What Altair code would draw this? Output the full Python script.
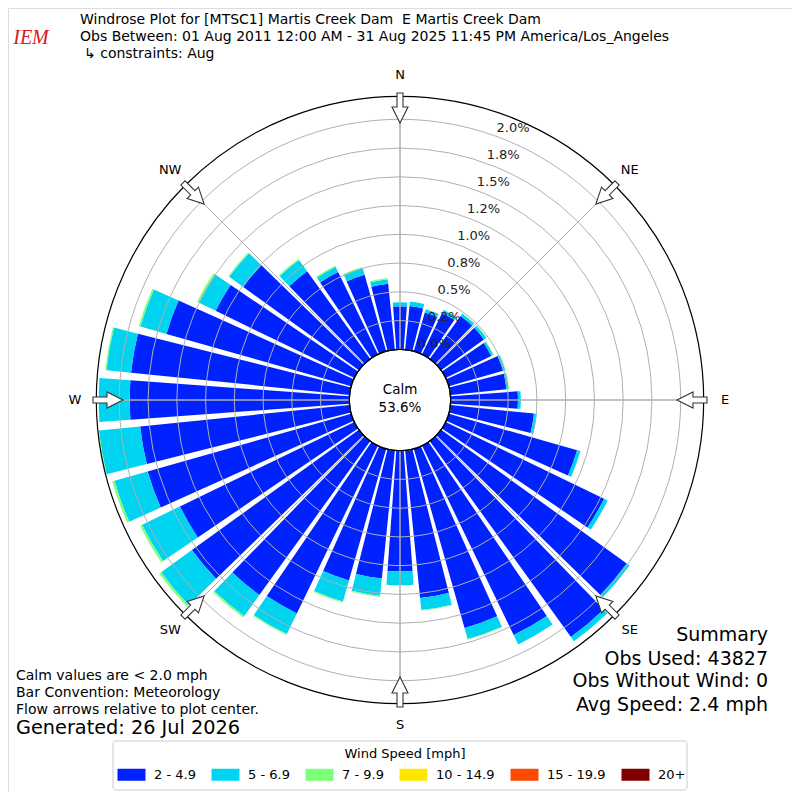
import math
import altair as alt
import pandas as pd

# ---------------- data ----------------
DIRS = [0, 10, 20, 30, 40, 50, 60, 70, 80, 90, 100, 110, 120, 130, 140, 150, 160, 170,
        180, 190, 200, 210, 220, 230, 240, 250, 260, 270, 280, 290, 300, 310, 320, 330, 340, 350]
BINS = ["2 - 4.9", "5 - 6.9", "7 - 9.9", "10 - 14.9", "15 - 19.9", "20+"]
COLORS = ["#0022FF", "#00D4F0", "#7DFF7A", "#FFE600", "#FF4A00", "#800000"]

S_2_5 = [0.375, 0.38, 0.35, 0.40, 0.46, 0.46, 0.44, 0.49, 0.49, 0.585, 0.73, 1.16,
         1.53, 1.99, 2.10, 1.83, 1.62, 1.29, 1.05, 1.12, 1.19, 1.62, 1.65, 1.79,
         1.685, 1.84, 1.83, 1.91, 1.91, 1.67, 1.34, 1.24, 0.94, 0.795, 0.69, 0.575]
S_5_7 = [0.035, 0.04, 0.03, 0.03, 0.025, 0.025, 0.02, 0.02, 0.02, 0.025, 0.025, 0.03,
         0.035, 0.03, 0.045, 0.09, 0.10, 0.105, 0.12, 0.15, 0.19, 0.20, 0.225, 0.33,
         0.365, 0.30, 0.36, 0.27, 0.215, 0.235, 0.165, 0.15, 0.12, 0.05, 0.06, 0.04]
S_7_10 = [0.0, 0.0, 0.0, 0.0, 0.005, 0.005, 0.005, 0.005, 0.005, 0.0, 0.0, 0.0,
          0.0, 0.0, 0.0, 0.0, 0.005, 0.005, 0.0, 0.01, 0.01, 0.01, 0.015, 0.02,
          0.02, 0.02, 0.01, 0.0, 0.01, 0.015, 0.015, 0.01, 0.01, 0.01, 0.01, 0.01]
S_10_15 = [0.0, 0.0, 0.0, 0.0, 0.0, 0.0, 0.0, 0.0, 0.0, 0.0, 0.0, 0.0,
           0.0, 0.0, 0.0, 0.0, 0.0, 0.0, 0.0, 0.0, 0.0, 0.0, 0.0, 0.0,
           0.0, 0.0, 0.0, 0.0, 0.0, 0.0, 0.0, 0.0, 0.0, 0.0, 0.0, 0.0]
S_15_20 = list(S_10_15)
S_20P = list(S_10_15)
SERIES = [S_2_5, S_5_7, S_7_10, S_10_15, S_15_20, S_20P]

RING_VALS = [0.25, 0.5, 0.75, 1.0, 1.25, 1.5, 1.75, 2.0]
RING_LABEL_VALS = [0.0, 0.25, 0.5, 0.75, 1.0, 1.25, 1.5, 1.75, 2.0]
RING_LABELS = ["0.0%", "0.2%", "0.5%", "0.8%", "1.0%", "1.2%", "1.5%", "1.8%", "2.0%"]
R_MAX = 2.2
COMPASS_DIRS = [0, 45, 90, 135, 180, 225, 270, 315]
COMPASS = ["N", "NE", "E", "SE", "S", "SW", "W", "NW"]
CALM_PCT = "53.6%"

# ---------------- layout / style ----------------
W = H = 784
CX, CY = W / 2, H / 2
R_IN, R_OUT = 50.7, 303.7
HALF = 4.2
FONT = "DejaVu Sans"
GRID = "#b0b0b0"

rows = []
for i, d in enumerate(DIRS):
    cum = 0.0
    for b, s in zip(BINS, SERIES):
        v = s[i]
        if v <= 0:
            continue
        rows.append(dict(dir=d, bin=b, t0=d - HALF, t1=d + HALF, r0=cum, r1=cum + v))
        cum += v
bars_df = pd.DataFrame(rows)

TH = alt.Scale(domain=[0, 360], range=[0, 2 * math.pi])
RS = alt.Scale(type="linear", domain=[0, R_MAX], range=[R_IN, R_OUT])
FULL = 2 * math.pi

# legend frame (drawn beneath the legend)
frame = alt.Chart(pd.DataFrame({"k": [0]})).mark_rect(
    fill="white", stroke="#cccccc", strokeWidth=1, cornerRadius=3
).encode(x=alt.value(105), x2=alt.value(679), y=alt.value(733), y2=alt.value(782))

bars = alt.Chart(bars_df).mark_arc().encode(
    theta=alt.Theta("t0:Q", scale=TH, stack=False),
    theta2="t1:Q",
    radius=alt.Radius("r1:Q", scale=RS, stack=False),
    radius2="r0:Q",
    color=alt.Color(
        "bin:N",
        scale=alt.Scale(domain=BINS, range=COLORS),
        legend=alt.Legend(
            title="Wind Speed [mph]", orient="none", legendX=111, legendY=734,
            direction="horizontal", titleAnchor="middle", titleFont=FONT,
            titleFontSize=13, titleFontWeight="normal", titleColor="black",
            titlePadding=7, labelFont=FONT, labelFontSize=13, labelColor="black",
            symbolType="M -2.333 -1 L 2.333 -1 L 2.333 1 L -2.333 1 Z",
            symbolSize=144, symbolStrokeWidth=0, symbolOpacity=1,
            labelOffset=16, columnPadding=15, padding=6,
        ),
    ),
)

rings = alt.Chart(pd.DataFrame({"r": RING_VALS})).mark_arc(
    filled=False, stroke=GRID, strokeWidth=1
).encode(
    theta=alt.value(0), theta2=alt.value(FULL),
    radius=alt.Radius("r:Q", scale=RS, stack=False),
)

spokes = alt.Chart(pd.DataFrame({"d": COMPASS_DIRS, "a": [0.0] * 8, "b": [R_MAX] * 8})).mark_arc(
    filled=False, stroke=GRID, strokeWidth=1
).encode(
    theta=alt.Theta("d:Q", scale=TH, stack=False), theta2="d:Q",
    radius=alt.Radius("b:Q", scale=RS, stack=False), radius2="a:Q",
)

outer = alt.Chart(pd.DataFrame({"r": [R_MAX]})).mark_arc(
    filled=False, stroke="black", strokeWidth=1.2
).encode(
    theta=alt.value(0), theta2=alt.value(FULL),
    radius=alt.Radius("r:Q", scale=RS, stack=False),
)

calm = alt.Chart(pd.DataFrame({"r": [0.0]})).mark_arc(
    fill="white", stroke="black", strokeWidth=1.2
).encode(
    theta=alt.value(0), theta2=alt.value(FULL),
    radius=alt.Radius("r:Q", scale=RS, stack=False),
)

ARROW = "M -3 -15 L 3 -15 L 3 -1 L 8 -1 L 0 15 L -8 -1 L -3 -1 Z"
arrows = alt.Chart(pd.DataFrame({"d": COMPASS_DIRS})).transform_calculate(
    ax=f"{CX} + 292*sin(datum.d*PI/180)",
    ay=f"{CY} - 292*cos(datum.d*PI/180)",
).mark_point(shape=ARROW, size=4, filled=True, fill="white", stroke="#333333",
             strokeWidth=1.1, opacity=1).encode(
    x=alt.X("ax:Q", scale=None), y=alt.Y("ay:Q", scale=None),
    angle=alt.Angle("d:Q", scale=None),
)

compass = alt.Chart(pd.DataFrame({"d": COMPASS_DIRS, "t": COMPASS})).mark_text(
    font=FONT, fontSize=13, color="black", align="center", baseline="middle"
).encode(
    theta=alt.Theta("d:Q", scale=TH, stack=False), radius=alt.value(325), text="t:N",
)

ring_labels = alt.Chart(pd.DataFrame({"r": RING_LABEL_VALS, "t": RING_LABELS})).mark_text(
    font=FONT, fontSize=13, color="#222222", align="center", baseline="middle", dx=17, dy=-8
).encode(
    theta=alt.value(math.radians(20)),
    radius=alt.Radius("r:Q", scale=RS, stack=False),
    text="t:N",
)


def txt(s, x, y, size=13, align="left", color="black", **kw):
    return alt.Chart(pd.DataFrame({"t": [s]})).mark_text(
        font=kw.pop("font", FONT), fontSize=size, align=align, baseline="middle",
        color=color, **kw
    ).encode(x=alt.value(x), y=alt.value(y), text="t:N")


texts = [
    txt("Calm", CX, 382, 13.5, "center"),
    txt(CALM_PCT, CX, 400, 13.5, "center"),
    txt("Windrose Plot for [MTSC1] Martis Creek Dam\u00a0 E Martis Creek Dam", 72, 12, 14),
    txt("Obs Between: 01 Aug 2011 12:00 AM - 31 Aug 2025 11:45 PM America/Los_Angeles", 72, 29, 14),
    txt("\u21b3 constraints: Aug", 76, 46, 14),
    txt("Calm values are < 2.0 mph", 8, 667.5, 14),
    txt("Bar Convention: Meteorology", 8, 685, 14),
    txt("Flow arrows relative to plot center.", 8, 702, 14),
    txt("Generated: 26 Jul 2026", 8, 720, 19.3),
    txt("Summary", 760, 627, 19, "right"),
    txt("Obs Used: 43827", 760, 651, 19, "right"),
    txt("Obs Without Wind: 0", 760, 673, 19, "right"),
    txt("Avg Speed: 2.4 mph", 760, 697, 19, "right"),
    txt("IEM", 23, 30, 20, "center", color="#d42020", font="Liberation Serif", fontStyle="italic"),
]

chart = alt.layer(
    frame, bars, rings, spokes, outer, calm, arrows, compass, ring_labels, *texts
).properties(
    width=W, height=H, padding=0, autosize=alt.AutoSizeParams(type="none")
).configure_view(stroke=None).configure(font=FONT)

chart.save("out.html", embed_options={"renderer": "svg", "actions": False})
